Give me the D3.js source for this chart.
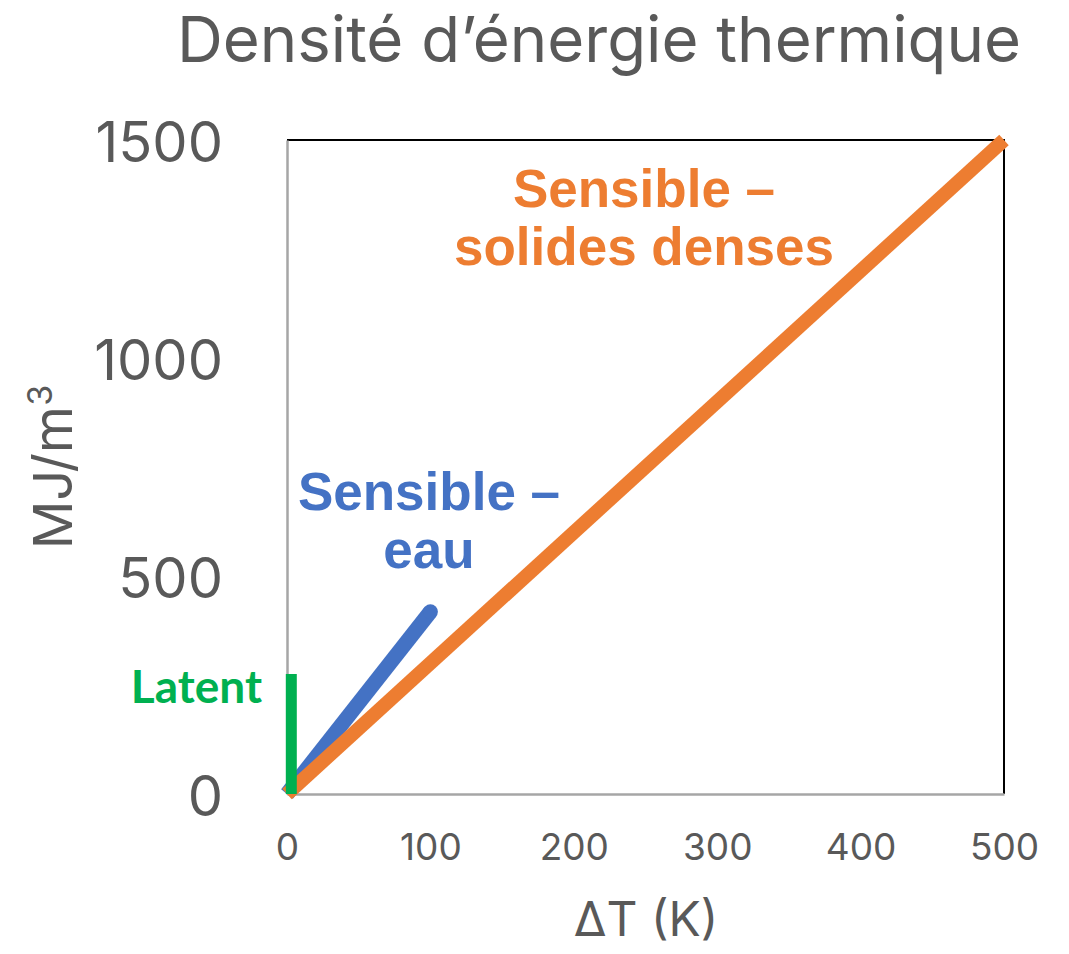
<!DOCTYPE html>
<html>
<head>
<meta charset="utf-8">
<script src="https://cdn.jsdelivr.net/npm/d3@7"></script>
<style>
  body { margin: 0; background: #fff; }
  #chart-container { width: 1069px; height: 954px; }
</style>
</head>
<body>
<div id="chart-container"></div>
<script>
const chartContainer = document.getElementById("chart-container");

// values
const xTicks = [0, 100, 200, 300, 400, 500];
const yTicks = [0, 500, 1000, 1500];
const soliddT = [0, 500];
const solidE = [0, 1500];
const waterdT = [0, 100];
const waterE = [0, 418];
const latentdT = [3, 3];
const latentE = [0, 275];

const width = 1069;
const height = 954;
const margin = { top: 140, right: 65, bottom: 160, left: 287 };
const graphWidth = width - margin.left - margin.right;
const graphHeight = height - margin.top - margin.bottom;

const grey = "#595959";
const font = "Inter, 'Open Sans', sans-serif";

const svg = d3
  .select(chartContainer)
  .append("svg")
  .attr("width", width)
  .attr("height", height);

const graph = svg
  .append("g")
  .attr("transform", `translate(${margin.left}, ${margin.top})`);

const x = d3.scaleLinear().domain([0, 500]).range([0, graphWidth]);
const y = d3.scaleLinear().domain([0, 1500]).range([graphHeight, 0]);

// top and right border
graph.append("path")
  .attr("d", `M0,0H${graphWidth}V${graphHeight}`)
  .attr("fill", "none")
  .attr("stroke", "#000")
  .attr("stroke-width", 2);

const gXAxis = graph.append("g").attr("transform", `translate(0, ${graphHeight})`);
const gYAxis = graph.append("g");

gXAxis.call(d3.axisBottom(x).tickValues(xTicks).tickFormat(d3.format("d")).tickSize(0).tickPadding(0));
gYAxis.call(d3.axisLeft(y).tickValues(yTicks).tickFormat(d3.format("d")).tickSize(0).tickPadding(0));

[gXAxis, gYAxis].forEach((g) => {
  g.select(".domain").attr("stroke", "#a6a6a6").attr("stroke-width", 2.5);
});

gXAxis.selectAll("text")
  .attr("y", 66)
  .attr("dy", null)
  .style("font-family", font)
  .style("font-size", "37px")
  .attr("fill", grey);

gYAxis.selectAll("text")
  .attr("x", -64)
  .attr("dy", null)
  .attr("y", 21)
  .style("font-family", font)
  .style("font-size", "56px")
  .attr("fill", grey);

const line = d3.line().x((d) => x(d[0])).y((d) => y(d[1]));

const water = d3.zip(waterdT, waterE);
graph.append("path")
  .datum(water)
  .attr("d", line)
  .attr("fill", "none")
  .attr("stroke", "#4472C4")
  .attr("stroke-width", 15);
// rounded end of the water line
graph.append("circle")
  .attr("cx", x(water[1][0]))
  .attr("cy", y(water[1][1]))
  .attr("r", 7.5)
  .attr("fill", "#4472C4");

graph.append("path")
  .datum(d3.zip(soliddT, solidE))
  .attr("d", line)
  .attr("fill", "none")
  .attr("stroke", "#ED7D31")
  .attr("stroke-width", 14);

graph.append("path")
  .datum(d3.zip(latentdT, latentE))
  .attr("d", line)
  .attr("fill", "none")
  .attr("stroke", "#00B050")
  .attr("stroke-width", 11);

// title
svg.append("text")
  .attr("x", 599)
  .attr("y", 62)
  .attr("text-anchor", "middle")
  .style("font-family", font)
  .style("font-size", "63.5px")
  .attr("fill", grey)
  .text("Densité d’énergie thermique");

// axis titles
svg.append("text")
  .attr("x", 646)
  .attr("y", 936)
  .attr("text-anchor", "middle")
  .style("font-family", font)
  .style("font-size", "48px")
  .attr("fill", grey)
  .text("ΔT (K)");

const yTitle = svg.append("text")
  .attr("transform", "translate(72, 467) rotate(-90)")
  .attr("text-anchor", "middle")
  .style("font-family", font)
  .style("font-size", "54px")
  .attr("fill", grey);
yTitle.append("tspan").text("MJ/m");
yTitle.append("tspan").attr("dy", -20).style("font-size", "34px").text("3");

// annotations
const bold = "'Liberation Sans', Arial, sans-serif";
const notes = [
  { lines: ["Sensible –", "solides denses"], x: 644, y: 207, color: "#ED7D31" },
  { lines: ["Sensible –", "eau"], x: 429, y: 510, color: "#4472C4" },
];
notes.forEach((n) => {
  const t = svg.append("text")
    .attr("text-anchor", "middle")
    .style("font-family", bold)
    .style("font-weight", "bold")
    .style("font-size", "53px")
    .attr("fill", n.color);
  n.lines.forEach((l, i) => {
    t.append("tspan").attr("x", n.x).attr("y", n.y + i * 58).text(l);
  });
});

svg.append("text")
  .attr("x", 262)
  .attr("y", 703)
  .attr("text-anchor", "end")
  .style("font-family", "Lato, 'Open Sans', sans-serif")
  .style("font-weight", "bold")
  .style("font-size", "46px")
  .attr("fill", "#00B050")
  .text("Latent");
</script>
</body>
</html>
